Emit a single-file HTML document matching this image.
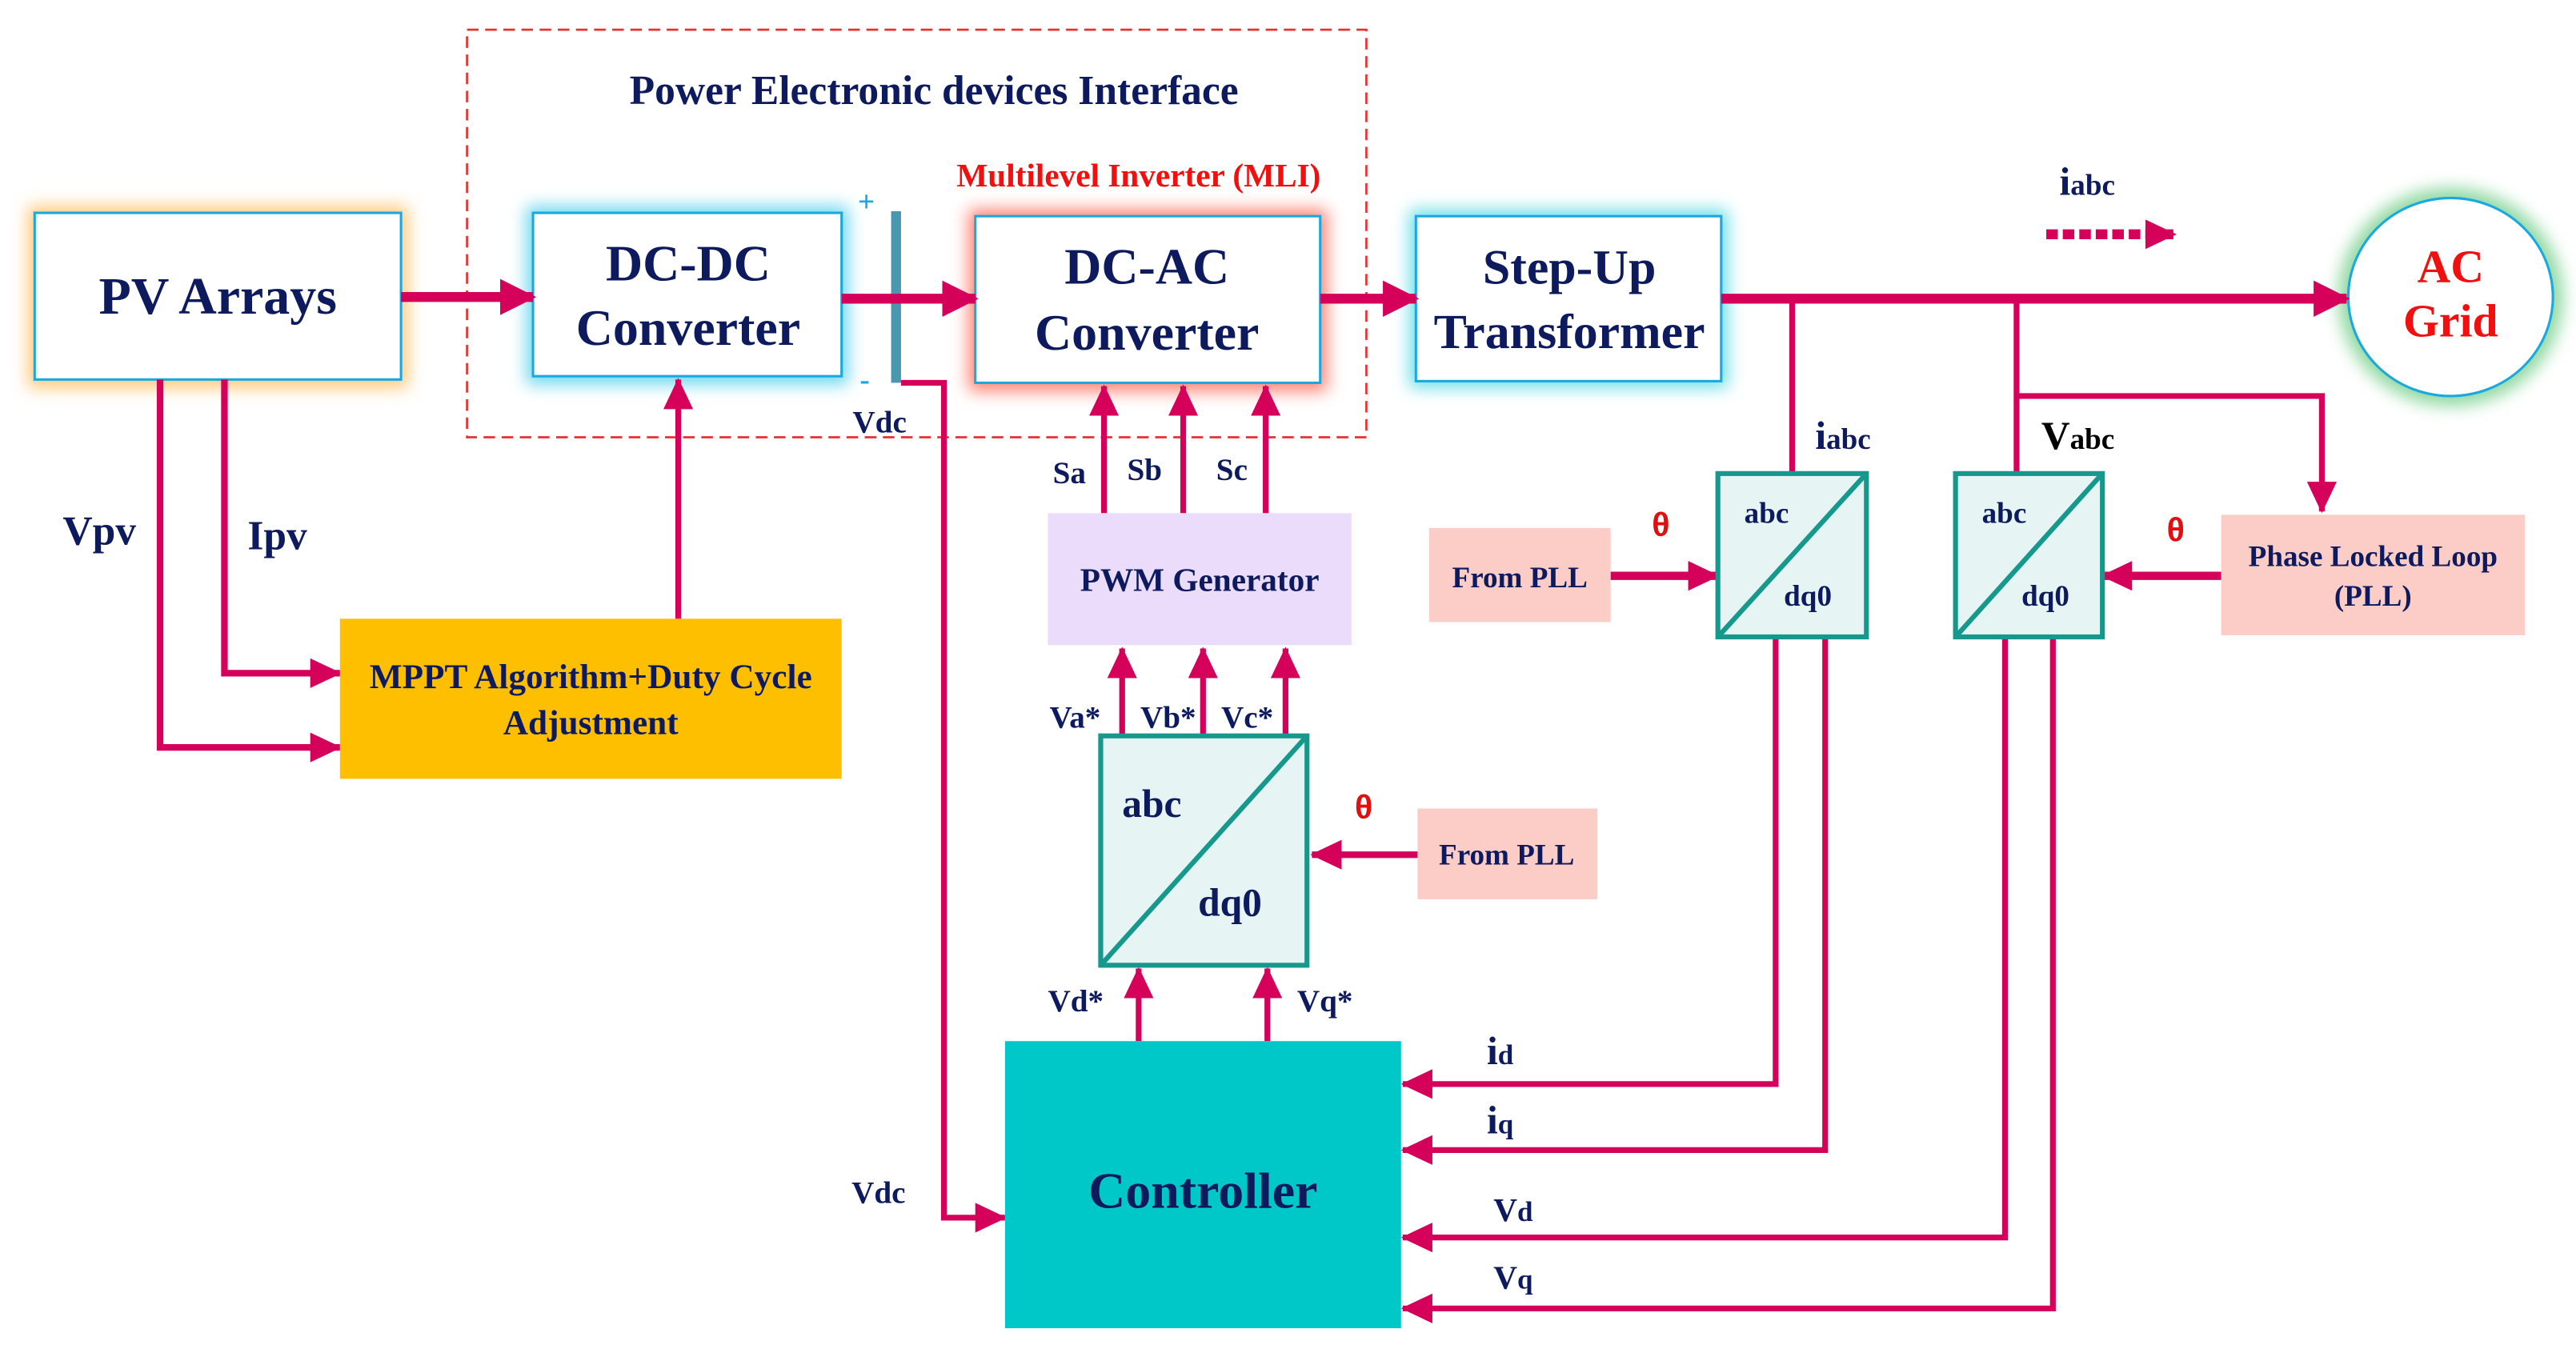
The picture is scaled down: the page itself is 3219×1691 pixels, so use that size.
<!DOCTYPE html>
<html><head><meta charset="utf-8"><style>html,body{margin:0;padding:0;background:#fff}svg{display:block}</style></head>
<body>
<svg width="3219" height="1691" viewBox="0 0 1561 820" xmlns="http://www.w3.org/2000/svg" font-family="'Liberation Serif', serif" font-weight="bold">
<defs>
<marker id="a" markerUnits="userSpaceOnUse" markerWidth="24" markerHeight="24" refX="20" refY="11" orient="auto"><path d="M0,0 L22,11 L0,22 Z" fill="#d4005a"/></marker>
<marker id="b" markerUnits="userSpaceOnUse" markerWidth="20" markerHeight="20" refX="18" refY="9" orient="auto"><path d="M0,0 L19,9 L0,18 Z" fill="#d4005a"/></marker>
<filter id="g" x="-20%" y="-20%" width="140%" height="140%"><feGaussianBlur stdDeviation="5"/></filter>
</defs>
<rect width="1561" height="820" fill="#fff"/>
<!-- dashed frame -->
<rect x="283" y="18" width="545" height="247" fill="none" stroke="#e83030" stroke-width="1.3" stroke-dasharray="7,4"/>
<text x="566" y="63" text-anchor="middle" font-size="25" fill="#0d1b5e">Power Electronic devices Interface</text>
<text x="690" y="113" text-anchor="middle" font-size="20" fill="#f01010">Multilevel Inverter (MLI)</text>
<!-- glows -->
<rect x="17" y="125" width="230" height="110" fill="#ffc878" filter="url(#g)"/>
<rect x="319" y="125" width="195" height="108" fill="#6cd8f0" filter="url(#g)"/>
<rect x="587" y="127" width="217" height="110" fill="#ff8070" filter="url(#g)"/>
<rect x="854" y="127" width="193" height="108" fill="#6ce0e8" filter="url(#g)"/>
<ellipse cx="1485" cy="180" rx="68" ry="66" fill="#8ed8a0" filter="url(#g)"/>
<!-- boxes -->
<rect x="21" y="129" width="222" height="101" fill="#fff" stroke="#1aa8e0" stroke-width="1.5"/>
<text x="132" y="190" text-anchor="middle" font-size="32" fill="#0d1b5e">PV Arrays</text>
<rect x="323" y="129" width="187" height="99" fill="#fff" stroke="#1aa8e0" stroke-width="1.5"/>
<text x="417" y="170" text-anchor="middle" font-size="31" fill="#0d1b5e">DC-DC</text>
<text x="417" y="209" text-anchor="middle" font-size="31" fill="#0d1b5e">Converter</text>
<rect x="591" y="131" width="209" height="101" fill="#fff" stroke="#1aa8e0" stroke-width="1.5"/>
<text x="695" y="172" text-anchor="middle" font-size="31" fill="#0d1b5e">DC-AC</text>
<text x="695" y="212" text-anchor="middle" font-size="31" fill="#0d1b5e">Converter</text>
<rect x="858" y="131" width="185" height="100" fill="#fff" stroke="#1aa8e0" stroke-width="1.5"/>
<text x="951" y="172" text-anchor="middle" font-size="30" fill="#0d1b5e">Step-Up</text>
<text x="951" y="211" text-anchor="middle" font-size="30" fill="#0d1b5e">Transformer</text>
<ellipse cx="1485" cy="180" rx="62" ry="60" fill="#fff" stroke="#1aa8e0" stroke-width="1.5"/>
<text x="1485" y="171" text-anchor="middle" font-size="28" fill="#f01010">AC</text>
<text x="1485" y="204" text-anchor="middle" font-size="28" fill="#f01010">Grid</text>
<!-- capacitor -->
<rect x="540" y="128" width="6" height="104" fill="#4a98b0"/>
<text x="525" y="128" text-anchor="middle" font-size="18" fill="#1aa8e0">+</text>
<text x="524" y="236" text-anchor="middle" font-size="18" fill="#1aa8e0">-</text>
<text x="533" y="262" text-anchor="middle" font-size="19" fill="#0d1b5e">Vdc</text>
<!-- main arrows -->
<g stroke="#d4005a" stroke-width="6" fill="none">
<line x1="243" y1="180" x2="323" y2="180" marker-end="url(#a)"/>
<line x1="510" y1="181" x2="591" y2="181" marker-end="url(#a)"/>
<line x1="800" y1="181" x2="858" y2="181" marker-end="url(#a)"/>
<line x1="1043" y1="181" x2="1422" y2="181" marker-end="url(#a)"/>
<line x1="1240" y1="142" x2="1318" y2="142" stroke-dasharray="7,3" stroke-width="6" marker-end="url(#b)"/>
</g>
<text x="1248" y="118" font-size="24" fill="#0d1b5e">i<tspan font-size="18">abc</tspan></text>
<g stroke="#d4005a" stroke-width="3.5" fill="none">
<line x1="1086" y1="181" x2="1086" y2="287"/>
<line x1="1222" y1="181" x2="1222" y2="287"/>
<polyline points="1222,240 1407,240 1407,310" marker-end="url(#b)"/>
<line x1="976" y1="349" x2="1041" y2="349" stroke-width="5" marker-end="url(#b)"/>
<line x1="1346" y1="349" x2="1274" y2="349" stroke-width="5" marker-end="url(#b)"/>
<polyline points="1076,386 1076,657 850,657" marker-end="url(#b)"/>
<polyline points="1106,386 1106,697 850,697" marker-end="url(#b)"/>
<polyline points="1215,386 1215,750 850,750" marker-end="url(#b)"/>
<polyline points="1244,386 1244,793 850,793" marker-end="url(#b)"/>
<polyline points="546,232 572,232 572,738 609,738" marker-end="url(#b)"/>
<polyline points="97,230 97,453 206,453" stroke-width="4" marker-end="url(#b)"/>
<polyline points="136,230 136,408 206,408" stroke-width="4" marker-end="url(#b)"/>
<line x1="411" y1="375" x2="411" y2="230" marker-end="url(#b)"/>
<line x1="669" y1="311" x2="669" y2="234" marker-end="url(#b)"/>
<line x1="717" y1="311" x2="717" y2="234" marker-end="url(#b)"/>
<line x1="767" y1="311" x2="767" y2="234" marker-end="url(#b)"/>
<line x1="680" y1="446" x2="680" y2="393" marker-end="url(#b)"/>
<line x1="729" y1="446" x2="729" y2="393" marker-end="url(#b)"/>
<line x1="779" y1="446" x2="779" y2="393" marker-end="url(#b)"/>
<line x1="690" y1="631" x2="690" y2="587" marker-end="url(#b)"/>
<line x1="768" y1="631" x2="768" y2="587" marker-end="url(#b)"/>
<line x1="859" y1="518" x2="795" y2="518" stroke-width="4" marker-end="url(#b)"/>
</g>
<text x="1100" y="272" font-size="24" fill="#0d1b5e">i<tspan font-size="18">abc</tspan></text>
<text x="1237" y="272" font-size="24" fill="#000">V<tspan font-size="18">abc</tspan></text>
<!-- abc/dq0 boxes -->
<g stroke="#16998c" stroke-width="3" fill="#e6f4f4">
<rect x="1041" y="287" width="90" height="99"/><line x1="1041" y1="386" x2="1131" y2="287"/>
<rect x="1185" y="287" width="89" height="99"/><line x1="1185" y1="386" x2="1274" y2="287"/>
<rect x="667" y="446" width="125" height="139"/><line x1="667" y1="585" x2="792" y2="446"/>
</g>
<g font-size="18" fill="#0d1b5e">
<text x="1057" y="317">abc</text><text x="1081" y="367">dq0</text>
<text x="1201" y="317">abc</text><text x="1225" y="367">dq0</text>
</g>
<text x="680" y="495" font-size="24" fill="#0d1b5e">abc</text>
<text x="726" y="555" font-size="24" fill="#0d1b5e">dq0</text>
<!-- PLL boxes -->
<rect x="866" y="320" width="110" height="57" fill="#fccdc6"/>
<text x="921" y="356" text-anchor="middle" font-size="18" fill="#0d1b5e">From  PLL</text>
<rect x="859" y="490" width="109" height="55" fill="#fccdc6"/>
<text x="913" y="524" text-anchor="middle" font-size="18" fill="#0d1b5e">From  PLL</text>
<rect x="1346" y="312" width="184" height="73" fill="#fccdc6"/>
<text x="1438" y="343" text-anchor="middle" font-size="18" fill="#0d1b5e">Phase Locked Loop</text>
<text x="1438" y="367" text-anchor="middle" font-size="18" fill="#0d1b5e">(PLL)</text>
<g font-family="'Liberation Sans', sans-serif" font-size="20" fill="#e01010" font-weight="bold">
<text x="1001" y="325">θ</text><text x="1313" y="328">θ</text><text x="821" y="496">θ</text>
</g>
<!-- PWM -->
<rect x="635" y="311" width="184" height="80" fill="#ecdcfc"/>
<text x="727" y="358" text-anchor="middle" font-size="20" fill="#0d1b5e">PWM Generator</text>
<g font-size="19" fill="#0d1b5e">
<text x="638" y="293">Sa</text><text x="683" y="291">Sb</text><text x="737" y="291">Sc</text>
<text x="636" y="441">Va*</text><text x="691" y="441">Vb*</text><text x="740" y="441">Vc*</text>
<text x="635" y="613">Vd*</text><text x="786" y="613">Vq*</text>
<text x="516" y="729">Vdc</text>
</g>
<!-- MPPT -->
<rect x="206" y="375" width="304" height="97" fill="#fdbf00"/>
<text x="358" y="417" text-anchor="middle" font-size="21" fill="#0d1b5e">MPPT Algorithm+Duty Cycle</text>
<text x="358" y="445" text-anchor="middle" font-size="21" fill="#0d1b5e">Adjustment</text>
<text x="38" y="330" font-size="25" fill="#0d1b5e">Vpv</text>
<text x="150" y="333" font-size="25" fill="#0d1b5e">Ipv</text>
<!-- Controller -->
<rect x="609" y="631" width="240" height="174" fill="#00c8c8"/>
<text x="729" y="732" text-anchor="middle" font-size="31" fill="#0d1b5e">Controller</text>
<g font-size="24" fill="#0d1b5e">
<text x="901" y="645">i<tspan font-size="17">d</tspan></text>
<text x="901" y="687">i<tspan font-size="17">q</tspan></text>
<text x="905" y="740" font-size="20">V<tspan font-size="17">d</tspan></text>
<text x="905" y="781" font-size="20">V<tspan font-size="17">q</tspan></text>
</g>
</svg>
</body></html>
